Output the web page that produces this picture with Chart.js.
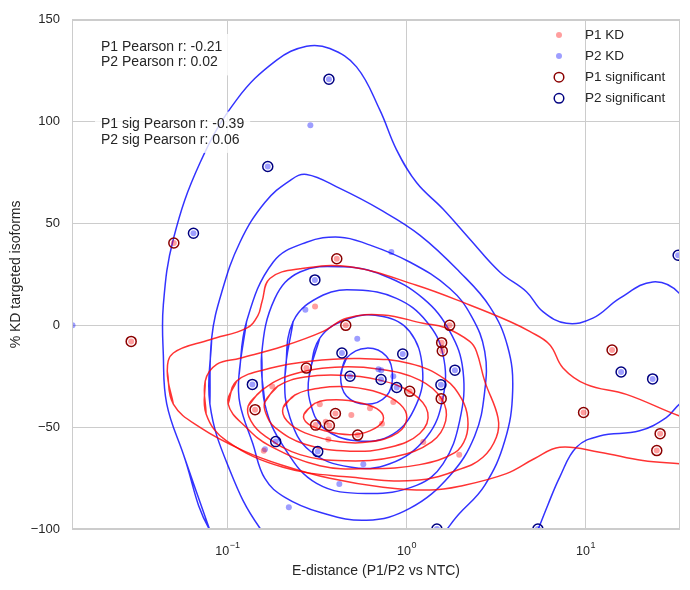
<!DOCTYPE html>
<html>
<head>
<meta charset="utf-8">
<script src="https://cdn.jsdelivr.net/npm/chart.js@4.4.1/dist/chart.umd.min.js"></script>
<style>
html, body { margin: 0; padding: 0; background: #fff; }
</style>
</head>
<body>
<canvas id="kdChart" width="690" height="590"></canvas>
<script>
// E-distance (x, log axis) and % KD targeted isoforms (y)
// P1 guides: significant ones, then the rest
const p1SigE   = [0.0502, 0.029, 0.1427, 0.408, 0.458, 0.276, 0.401, 0.311, 0.371, 0.534, 1.042, 1.742, 1.572, 1.585, 1.563, 14.07, 9.75, 26.1, 25.0];
const p1SigPct = [40.4, -7.9, -41.4, 32.7, 0, -21.0, -43.3, -49.0, -49.2, -53.9, -32.4, 0, -8.5, -12.6, -36.0, -12.1, -42.8, -53.2, -61.5];
const p1OtherE   = [0.3086, 0.178, 0.328, 0.492, 0.6255, 0.844, 0.73, 0.354, 0.366, 0.1596, 1.241, 1.97];
const p1OtherPct = [9.3, -30.0, -38.7, -44.0, -40.7, -37.6, -48.3, -47.4, -56.1, -61.6, -57.3, -63.6];

// P2 guides
const p2SigE   = [0.369, 0.168, 0.0646, 0.308, 0.436, 0.484, 0.721, 0.882, 0.953, 1.865, 1.557, 0.186, 0.3195, 1.479, 0.1378, 15.8, 23.7, 5.42, 32.9];
const p2SigPct = [120.8, 78.0, 45.2, 22.3, -13.6, -25.0, -26.6, -30.5, -14.1, -22.0, -29.2, -57.1, -62.0, -100, -29.0, -22.9, -26.3, -100, 34.4];
const p2OtherE   = [0.2905, 0.823, 0.2724, 0.531, 0.697, 0.723, 0.844, 0.574, 0.4217, 0.2203, 0.162, 0.01364];
const p2OtherPct = [98.2, 36.0, 7.7, -6.6, -21.6, -22.0, -25.0, -68.2, -77.9, -89.3, -60.9, 0];

// density contours, as [log10(E-distance), %KD] vertices, inner to outer
const p1Contours = [
    [[-0.573,-43.8],[-0.512,-38.3],[-0.391,-36.6],[-0.249,-38.3],[-0.149,-42.0],[-0.131,-46.9],[-0.205,-51.8],[-0.316,-53.7],[-0.456,-51.8],[-0.551,-48.3]],
    [[-0.689,-40.4],[-0.623,-34.2],[-0.484,-30.8],[-0.316,-30.3],[-0.149,-33.2],[-0.037,-38.6],[0.002,-45.4],[-0.049,-52.8],[-0.205,-57.2],[-0.372,-57.2],[-0.567,-52.8],[-0.668,-46.9]],
    [[-0.791,-37.6],[-0.718,-29.8],[-0.567,-25.4],[-0.372,-24.5],[-0.149,-26.9],[0.030,-33.2],[0.119,-42.9],[0.074,-53.1],[-0.093,-59.9],[-0.316,-61.8],[-0.567,-58.4],[-0.735,-50.1],[-0.785,-43.3]],
    [[-0.884,-39.6],[-0.807,-31.8],[-0.651,-24.5],[-0.400,-20.6],[-0.149,-21.6],[0.074,-26.9],[0.197,-36.2],[0.219,-46.9],[0.141,-57.2],[-0.065,-64.5],[-0.344,-66.5],[-0.595,-63.5],[-0.791,-54.3],[-0.869,-46.9]],
    [[-0.996,-38.6],[-0.949,-27.4],[-0.763,-21.1],[-0.540,-17.6],[-0.261,-16.3],[0.018,-18.7],[0.214,-26.4],[0.309,-36.2],[0.342,-45.5],[0.331,-55.2],[0.270,-62.5],[0.074,-68.4],[-0.205,-70.4],[-0.484,-68.9],[-0.763,-59.2],[-0.893,-50.3]],
    [[-1.124,-27.4],[-1.119,-43.5],[-1.005,-56.7],[-0.689,-69.7],[-0.316,-74.5],[0.056,-76.1],[0.297,-70.7],[0.427,-64.8],[0.502,-55.0],[0.511,-45.3],[0.437,-27.4],[0.391,-12.8],[0.353,-7.9],[0.214,-1.1],[0.093,1.0],[-0.131,5.1],[-0.335,3.5],[-0.465,-3.0],[-0.689,-10.3],[-0.930,-16.2],[-1.060,-19.2]],
    [[-1.336,-22.5],[-1.302,-38.7],[-1.153,-50.1],[-0.912,-61.5],[-0.689,-68.8],[-0.428,-75.1],[-0.131,-79.5],[0.130,-80.9],[0.297,-79.0],[0.558,-72.8],[0.716,-65.4],[0.856,-59.9],[1.079,-62.3],[1.320,-66.4],[1.525,-68.0],[1.637,-68.8],[1.637,-46.9],[1.525,-44.5],[1.228,-33.9],[1.004,-29.0],[0.874,-20.9],[0.800,-9.5],[0.688,-3.0],[0.577,1.9],[0.353,10.0],[0.056,19.7],[-0.316,28.7],[-0.595,27.8],[-0.763,23.0],[-0.807,11.6],[-0.830,4.8],[-0.893,-1.4],[-1.098,-7.1],[-1.302,-13.6]]
];
const p2Contours = [
    [[-0.368,-25.0],[-0.335,-16.0],[-0.223,-11.2],[-0.112,-15.2],[-0.078,-25.0],[-0.112,-34.7],[-0.223,-38.8],[-0.335,-34.7]],
    [[-0.544,-25.0],[-0.484,-6.3],[-0.316,3.5],[-0.131,4.3],[0.018,-3.0],[0.089,-20.9],[0.056,-38.7],[-0.075,-53.4],[-0.279,-56.7],[-0.465,-50.2],[-0.540,-37.1]],
    [[-0.679,-25.0],[-0.633,1.9],[-0.465,14.9],[-0.279,17.3],[-0.056,13.2],[0.112,1.9],[0.204,-14.4],[0.204,-35.5],[0.112,-55.0],[-0.093,-68.0],[-0.316,-69.6],[-0.540,-61.6],[-0.651,-45.3]],
    [[-0.791,-38.7],[-0.809,-14.4],[-0.735,13.2],[-0.595,26.2],[-0.354,28.7],[-0.131,24.6],[0.093,13.2],[0.242,-3.0],[0.316,-22.5],[0.297,-46.9],[0.204,-68.0],[0.056,-78.6],[-0.223,-82.6],[-0.502,-77.6],[-0.689,-59.2]],
    [[-0.936,-25.0],[-0.893,1.9],[-0.744,31.1],[-0.558,40.8],[-0.372,43.3],[-0.223,40.0],[0.018,31.1],[0.242,18.1],[0.364,4.3],[0.437,-12.8],[0.437,-32.3],[0.381,-54.3],[0.242,-73.8],[0.018,-89.9],[-0.223,-95.7],[-0.484,-91.8],[-0.679,-84.5],[-0.791,-75.2],[-0.858,-58.2],[-0.930,-38.6]],
    [[-1.098,-38.6],[-1.088,-6.3],[-1.031,16.5],[-0.930,40.8],[-0.791,60.3],[-0.651,71.1],[-0.558,74.1],[-0.372,67.2],[-0.149,56.9],[0.074,44.3],[0.297,26.2],[0.465,9.2],[0.565,-10.4],[0.593,-32.3],[0.549,-56.7],[0.437,-78.6],[0.297,-92.3],[0.130,-107.8],[-0.261,-120.1],[-0.651,-112.8],[-0.819,-99.5],[-0.986,-71.3]],
    [[-1.098,-100.6],[-1.247,-63.1],[-1.339,-38.6],[-1.358,-14.4],[-1.358,10.0],[-1.302,42.4],[-1.153,79.8],[-0.949,110.7],[-0.725,130.2],[-0.558,137.0],[-0.428,135.9],[-0.279,126.9],[-0.149,105.8],[-0.056,86.3],[0.056,70.1],[0.204,57.1],[0.353,42.4],[0.521,26.2],[0.670,16.5],[0.762,6.7],[0.893,1.0],[1.041,3.5],[1.190,13.2],[1.376,21.3],[1.525,15.6],[1.637,-3.0],[1.637,-32.3],[1.525,-38.7],[1.451,-45.3],[1.302,-51.8],[1.079,-54.3],[0.949,-59.9],[0.856,-74.5],[0.789,-88.3],[0.733,-100.6],[0.632,-120.1],[-0.037,-134.7],[-0.819,-129.8]]
];

const yTicks = [-100, -50, 0, 50, 100, 150];
const xDecades = [-1, 0, 1];
const X_MIN = 0.01355, X_MAX = 33.7;

const annot1 = ['P1 Pearson r: -0.21', 'P2 Pearson r: 0.02'];
const annot2 = ['P1 sig Pearson r: -0.39', 'P2 sig Pearson r: 0.06'];
const legendItems = ['P1 KD', 'P2 KD', 'P1 significant', 'P2 significant'];

const FONT = "'Liberation Sans', Arial, sans-serif";
const TEXT = '#262626';
const GRID = '#cccccc';

function zip(xs, ys) {
    return xs.map((v, i) => ({x: v, y: ys[i]}));
}

// closed contour -> points; first two vertices repeated so the spline closes smoothly
function loop(verts) {
    const pts = verts.concat([verts[0], verts[1]]);
    return pts.map(v => ({x: Math.pow(10, v[0]), y: v[1]}));
}

const p1AllE = p1OtherE.concat(p1SigE), p1AllPct = p1OtherPct.concat(p1SigPct);
const p2AllE = p2OtherE.concat(p2SigE), p2AllPct = p2OtherPct.concat(p2SigPct);

const datasets = [
    {label: 'P1 significant', data: zip(p1SigE, p1SigPct), pointRadius: 5, borderWidth: 1.5,
     backgroundColor: 'rgba(0,0,0,0)', borderColor: '#8b0000', order: 0, clip: 0},
    {label: 'P2 significant', data: zip(p2SigE, p2SigPct), pointRadius: 5, borderWidth: 1.5,
     backgroundColor: 'rgba(0,0,0,0)', borderColor: '#000080', order: 0, clip: 0},
    {label: 'P1 KD', data: zip(p1AllE, p1AllPct), pointRadius: 3, borderWidth: 0,
     backgroundColor: 'rgba(255,0,0,0.38)', order: 1, clip: 0},
    {label: 'P2 KD', data: zip(p2AllE, p2AllPct), pointRadius: 3, borderWidth: 0,
     backgroundColor: 'rgba(0,0,255,0.38)', order: 1, clip: 0}
];

p1Contours.forEach(c => datasets.push({
    data: loop(c), showLine: true, pointRadius: 0, borderWidth: 1.5, tension: 0.4,
    borderColor: 'rgba(255,0,0,0.8)', order: 2, clip: 0
}));
p2Contours.forEach(c => datasets.push({
    data: loop(c), showLine: true, pointRadius: 0, borderWidth: 1.5, tension: 0.4,
    borderColor: 'rgba(0,0,255,0.8)', order: 3, clip: 0
}));

function isDecade(v) {
    if (!v) return false;
    const l = Math.log10(v);
    return Math.abs(l - Math.round(l)) < 1e-6;
}

const decor = {
    id: 'decor',
    afterDatasetsDraw(chart) {
        const {ctx, chartArea: a} = chart;
        ctx.save();
        ctx.strokeStyle = GRID;
        ctx.lineWidth = 1;
        ctx.strokeRect(Math.round(a.left) + 0.5, Math.round(a.top) + 0.5,
            Math.round(a.right - a.left) - 1, Math.round(a.bottom - a.top) - 1);
        ctx.restore();
    },
    afterDraw(chart) {
        const {ctx, scales} = chart;
        ctx.save();
        ctx.fillStyle = TEXT;
        ctx.textBaseline = 'middle';
        ctx.textAlign = 'left';
        // x tick labels 10^n
        xDecades.forEach(e => {
            const px = scales.x.getPixelForValue(Math.pow(10, e));
            const sup = e < 0 ? '\u2212' + (-e) : String(e);
            ctx.font = '12.5px ' + FONT;
            const w1 = ctx.measureText('10').width;
            ctx.font = '9px ' + FONT;
            const w2 = ctx.measureText(sup).width;
            const start = px - (w1 + w2) / 2;
            ctx.font = '12.5px ' + FONT;
            ctx.fillText('10', start, 551.5);
            ctx.font = '9px ' + FONT;
            ctx.fillText(sup, start + w1 + 0.5, 545.5);
        });
        // annotation boxes
        function block(lines, x, yTop) {
            ctx.font = '14px ' + FONT;
            const lh = 15.7;
            const w = Math.max(...lines.map(t => ctx.measureText(t).width));
            ctx.fillStyle = 'rgba(255,255,255,0.8)';
            ctx.fillRect(x - 6, yTop - 5, w + 12, lh * lines.length + 10);
            ctx.fillStyle = TEXT;
            lines.forEach((t, k) => ctx.fillText(t, x, yTop + lh * k + lh / 2));
        }
        block(annot1, 101, 39);
        block(annot2, 101, 116.5);
        // legend
        const styles = [
            {r: 3, fill: 'rgba(255,0,0,0.38)'},
            {r: 3, fill: 'rgba(0,0,255,0.38)'},
            {r: 4.8, stroke: '#8b0000'},
            {r: 4.8, stroke: '#000080'}
        ];
        legendItems.forEach((label, k) => {
            const y = 35 + k * 21.1;
            const st = styles[k];
            ctx.beginPath();
            ctx.arc(559, y, st.r, 0, Math.PI * 2);
            if (st.fill) { ctx.fillStyle = st.fill; ctx.fill(); }
            else { ctx.strokeStyle = st.stroke; ctx.lineWidth = 1.5; ctx.stroke(); }
            ctx.fillStyle = TEXT;
            ctx.font = '13.5px ' + FONT;
            ctx.fillText(label, 585, y);
        });
        ctx.restore();
    }
};

const ctx = document.getElementById('kdChart').getContext('2d');
const kdChart = new Chart(ctx, {
    type: 'scatter',
    data: {datasets: datasets},
    options: {
        responsive: false,
        animation: false,
        devicePixelRatio: 1,
        layout: {padding: {top: 16, right: 10, bottom: 0, left: 0}},
        plugins: {legend: {display: false}, tooltip: {enabled: false}},
        scales: {
            x: {
                type: 'logarithmic',
                min: X_MIN,
                max: X_MAX,
                grid: {
                    color: c => isDecade(c.tick && c.tick.value) ? GRID : 'rgba(0,0,0,0)',
                    drawTicks: false,
                    lineWidth: 1
                },
                border: {display: false},
                ticks: {display: false, autoSkip: false},
                title: {
                    display: true, text: 'E-distance (P1/P2 vs NTC)', color: TEXT,
                    font: {family: FONT, size: 14}, padding: {top: 0, bottom: 10.6}
                },
                afterFit: s => { s.height = 61; }
            },
            y: {
                min: -100,
                max: 150,
                afterBuildTicks: s => { s.ticks = yTicks.map(v => ({value: v})); },
                grid: {color: GRID, drawTicks: false, lineWidth: 1},
                border: {display: false},
                ticks: {
                    padding: 12, color: TEXT, font: {family: FONT, size: 13},
                    callback: v => v < 0 ? '\u2212' + Math.abs(v) : String(v)
                },
                title: {
                    display: true, text: '% KD targeted isoforms', color: TEXT,
                    font: {family: FONT, size: 14}, padding: {top: 7.6, bottom: 0}
                },
                afterFit: s => { s.width = 72; }
            }
        }
    },
    plugins: [decor]
});
</script>
</body>
</html>
